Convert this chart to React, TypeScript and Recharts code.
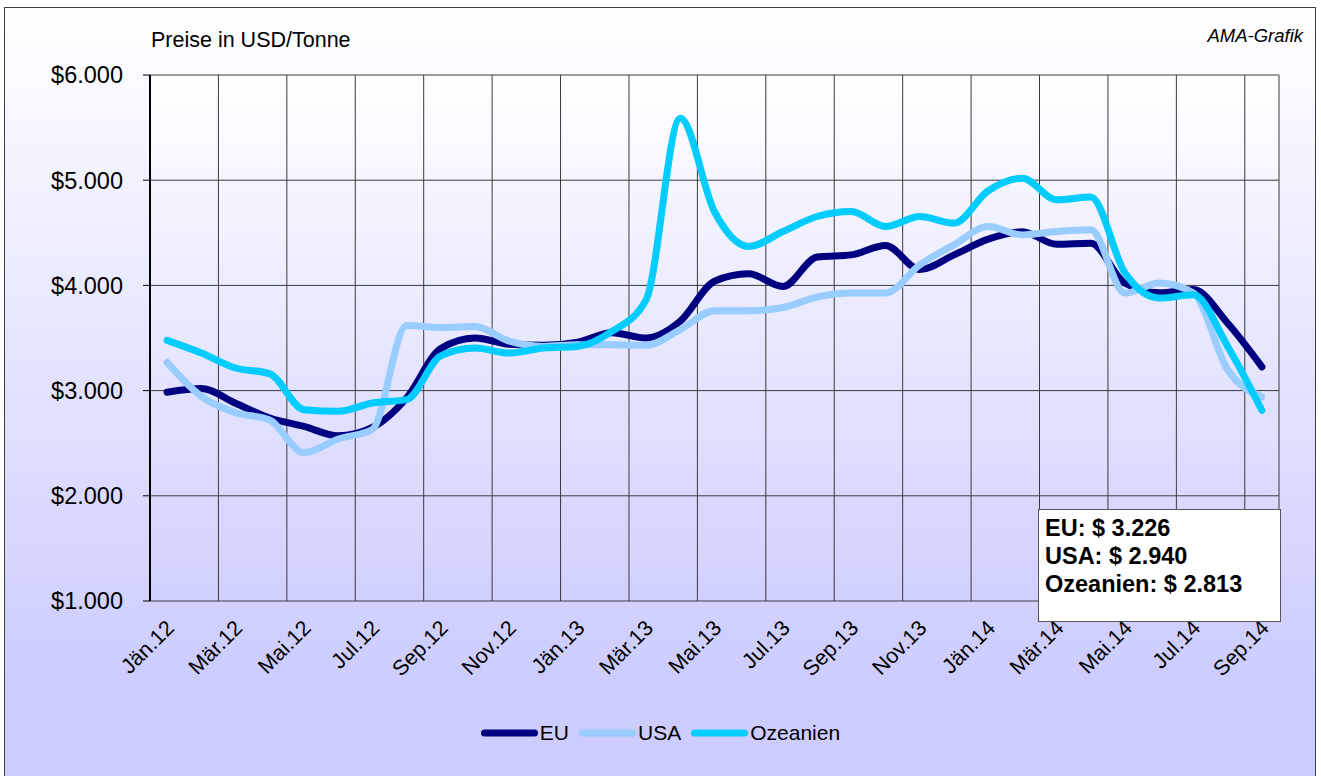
import React from 'react';
import { LineChart, Line, XAxis, YAxis, CartesianGrid, Legend } from 'recharts';

const months = [
  'Jän.12', 'Feb.12', 'Mär.12', 'Apr.12', 'Mai.12', 'Jun.12', 'Jul.12', 'Aug.12', 'Sep.12', 'Okt.12', 'Nov.12', 'Dez.12',
  'Jän.13', 'Feb.13', 'Mär.13', 'Apr.13', 'Mai.13', 'Jun.13', 'Jul.13', 'Aug.13', 'Sep.13', 'Okt.13', 'Nov.13', 'Dez.13',
  'Jän.14', 'Feb.14', 'Mär.14', 'Apr.14', 'Mai.14', 'Jun.14', 'Jul.14', 'Aug.14', 'Sep.14',
];

const euPrices = [
  2985, 3020, 2880, 2740, 2660, 2570, 2650, 2930, 3400, 3500, 3440, 3430,
  3460, 3550, 3500, 3660, 4040, 4110, 3990, 4270, 4290, 4380, 4150, 4290,
  4440, 4510, 4390, 4400, 4020, 3930, 3960, 3640, 3226,
];

const usaPrices = [
  3268, 2945, 2790, 2720, 2410, 2540, 2630, 3620, 3600, 3610, 3470, 3420,
  3436, 3436, 3430, 3580, 3760, 3760, 3790, 3890, 3927, 3927, 4196, 4385,
  4560, 4480, 4512, 4528, 3927, 4022, 3927, 3198, 2940,
];

const ozPrices = [
  3477, 3357, 3215, 3160, 2818, 2803, 2882, 2914, 3330, 3404, 3357, 3404,
  3420, 3562, 3863, 5589, 4700, 4370, 4512, 4655, 4702, 4560, 4655, 4592,
  4900, 5019, 4813, 4840, 4117, 3880, 3910, 3420, 2813,
];

const yTicks = [1000, 2000, 3000, 4000, 5000, 6000];
const labelTicks = months.map((_, i) => i).filter((i) => i % 2 === 0);
const gridTicks = labelTicks.map((i) => i - 0.5).concat([months.length - 0.5]);

const seriesNames = ['EU', 'USA', 'Ozeanien'];
const seriesColors = ['#000080', '#99CCFF', '#00CCFF'];
const lastValues = ['3.226', '2.940', '2.813'];

const data = months.map((m, i) => ({
  idx: i,
  month: m,
  EU: euPrices[i],
  USA: usaPrices[i],
  Ozeanien: ozPrices[i],
}));

const FONT = 'Arial, "Liberation Sans", Helvetica, sans-serif';

const fmt = (v: number) => '$' + String(v).replace(/\B(?=(\d{3})+(?!\d))/g, '.');

const MonthTick = (props: any) => {
  const { x, y, payload } = props;
  const ax = x + 3;
  const ay = y + 23;
  return (
    <text
      x={ax}
      y={ay}
      dy="0.35em"
      textAnchor="end"
      transform={`rotate(-45, ${ax}, ${ay})`}
      fontSize={21.5}
      fill="#000"
      fontFamily={FONT}
    >
      {months[payload.value]}
    </text>
  );
};

const renderLegend = () => (
  <div
    style={{
      display: 'flex',
      justifyContent: 'center',
      alignItems: 'center',
      height: 30,
      fontFamily: FONT,
      fontSize: 21,
      color: '#000',
    }}
  >
    {seriesNames.map((n, i) => (
      <div key={n} style={{ display: 'flex', alignItems: 'center', marginRight: i < 2 ? 10 : 0 }}>
        <svg width={57} height={10}>
          <line x1={3.5} y1={5} x2={53.5} y2={5} stroke={seriesColors[i]} strokeWidth={7} strokeLinecap="round" />
        </svg>
        <span style={{ marginLeft: 2 }}>{n}</span>
      </div>
    ))}
  </div>
);

export default function App() {
  return (
    <div style={{ position: 'absolute', left: 0, top: 0, width: 1321, height: 776, background: '#fff', overflow: 'hidden' }}>
      <svg width={1321} height={776} style={{ position: 'absolute', left: 0, top: 0 }}>
        <defs>
          <linearGradient id="outerBg" x1="0" y1="0" x2="0" y2="1">
            <stop offset="0" stopColor="#FFFFFF" />
            <stop offset="0.85" stopColor="#CCCCFF" />
            <stop offset="1" stopColor="#CCCCFF" />
          </linearGradient>
        </defs>
        <rect x={4.5} y={7.5} width={1311} height={790} fill="url(#outerBg)" stroke="#404040" strokeWidth={1} />
        <text x={151} y={47} fontSize={21.5} fontFamily={FONT} fill="#000">Preise in USD/Tonne</text>
        <text x={1303} y={42} fontSize={18.5} fontFamily={FONT} fontStyle="italic" textAnchor="end" fill="#000">AMA-Grafik</text>
      </svg>
      <div style={{ position: 'absolute', left: 0, top: 0 }}>
        <LineChart width={1321} height={776} data={data} margin={{ top: 75, right: 42, bottom: 75, left: 0 }}>
          <defs>
            <linearGradient id="plotBg" x1="0" y1="0" x2="0" y2="1">
              <stop offset="0" stopColor="#FFFFFF" />
              <stop offset="1" stopColor="#D0D0FF" />
            </linearGradient>
          </defs>
          <CartesianGrid xAxisId="grid" stroke="#3a3a3a" strokeWidth={1} fill="url(#plotBg)" fillOpacity={1} />
          <XAxis
            xAxisId="grid"
            type="number"
            dataKey="idx"
            domain={[-0.5, months.length - 0.5]}
            ticks={gridTicks}
            interval={0}
            allowDataOverflow
            tickFormatter={() => ''}
            tickSize={6}
            height={0}
            axisLine={{ stroke: '#000', strokeWidth: 2 }}
            tickLine={{ stroke: '#000' }}
          />
          <XAxis
            xAxisId="lab"
            type="number"
            dataKey="idx"
            domain={[-0.5, months.length - 0.5]}
            ticks={labelTicks}
            interval={0}
            allowDataOverflow
            tick={<MonthTick />}
            tickLine={false}
            axisLine={false}
            tickSize={0}
            tickMargin={0}
            height={100}
          />
          <YAxis
            width={150}
            domain={[1000, 6000]}
            ticks={yTicks}
            interval={0}
            tickFormatter={fmt}
            tick={{ fontSize: 23.5, fill: '#000', fontFamily: FONT }}
            axisLine={{ stroke: '#000', strokeWidth: 2 }}
            tickLine={{ stroke: '#000' }}
            tickSize={7}
            tickMargin={20}
          />
          <Legend verticalAlign="middle" layout="horizontal" content={renderLegend} wrapperStyle={{ top: 718, left: 0, width: 1321, height: 30 }} />
          {seriesNames.map((n, i) => (
            <Line
              key={n}
              xAxisId="lab"
              type="monotone"
              dataKey={n}
              stroke={seriesColors[i]}
              strokeWidth={7}
              strokeLinecap="round"
              strokeLinejoin="round"
              dot={false}
              activeDot={false}
              isAnimationActive={false}
            />
          ))}
        </LineChart>
      </div>
      <svg width={1321} height={776} style={{ position: 'absolute', left: 0, top: 0, pointerEvents: 'none' }}>
        <rect x={1038.5} y={509.5} width={242} height={112} fill="#fff" stroke="#555" strokeWidth={1} />
        {seriesNames.map((n, i) => (
          <text key={n} x={1045} y={536 + i * 28} fontSize={23.5} fontWeight="bold" fontFamily={FONT} fill="#000">
            {`${n}: $ ${lastValues[i]}`}
          </text>
        ))}
      </svg>
    </div>
  );
}
